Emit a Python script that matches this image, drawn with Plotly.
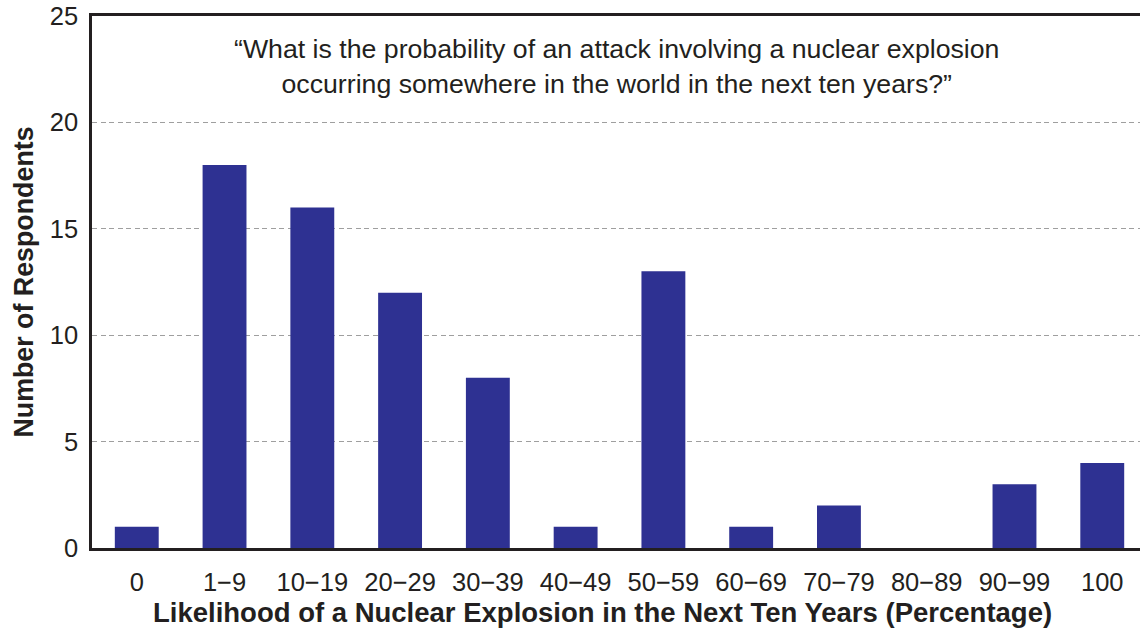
import plotly.graph_objects as go

categories = ["0", "1−9", "10−19", "20−29", "30−39", "40−49", "50−59",
              "60−69", "70−79", "80−89", "90−99", "100"]
respondents = [1, 18, 16, 12, 8, 1, 13, 1, 2, 0, 3, 4]
y_ticks = [0, 5, 10, 15, 20, 25]

TICK_FONT = "Liberation Sans Narrow, Arial Narrow, Liberation Sans, sans-serif"

fig = go.Figure(go.Bar(
    x=categories, y=respondents, width=0.5,
    marker=dict(color="#2e3192", line=dict(width=0)),
))

fig.update_layout(
    width=1140, height=632,
    margin=dict(l=92, r=0, t=16, b=84),
    paper_bgcolor="white", plot_bgcolor="white",
    font=dict(family="Liberation Sans, Arial, sans-serif", color="#231f20"),
    showlegend=False,
    xaxis=dict(
        range=[-0.51, 11.43],
        showline=True, linecolor="#231f20", linewidth=2.5, mirror=True,
        ticks="", ticklabelstandoff=10,
        tickfont=dict(size=25.5, color="#231f20", family=TICK_FONT),
        showgrid=False,
        automargin=False,
    ),
    yaxis=dict(
        range=[0, 25], tickvals=y_ticks,
        showline=True, linecolor="#231f20", linewidth=2.5,
        ticks="", ticklabelstandoff=6,
        tickfont=dict(size=25.5, color="#231f20", family=TICK_FONT),
        showgrid=True, gridcolor="#9f9f9f", griddash="5px,3.5px", gridwidth=1.4,
        zeroline=False,
        title=dict(text="<b>Number of Respondents</b>",
                   font=dict(size=26.8, color="#231f20"), standoff=9),
        automargin=False,
    ),
    annotations=[
        dict(
            text="“What is the probability of an attack involving a nuclear explosion<br>occurring somewhere in the world in the next ten years?”",
            xref="paper", yref="paper", x=0.5, y=0.97, xanchor="center", yanchor="top",
            showarrow=False, font=dict(size=26.7, color="#231f20"), align="center",
        ),
        dict(
            text="<b>Likelihood of a Nuclear Explosion in the Next Ten Years (Percentage)</b>",
            xref="paper", yref="paper", x=(602 - 92) / 1048, y=-64 / 532,
            xanchor="center", yanchor="middle", showarrow=False,
            font=dict(size=27.5, color="#231f20"),
        ),
    ],
)

fig.write_html("out.html", config={"displayModeBar": False},
               post_script="document.body.style.margin='0';document.body.style.overflow='hidden';")
